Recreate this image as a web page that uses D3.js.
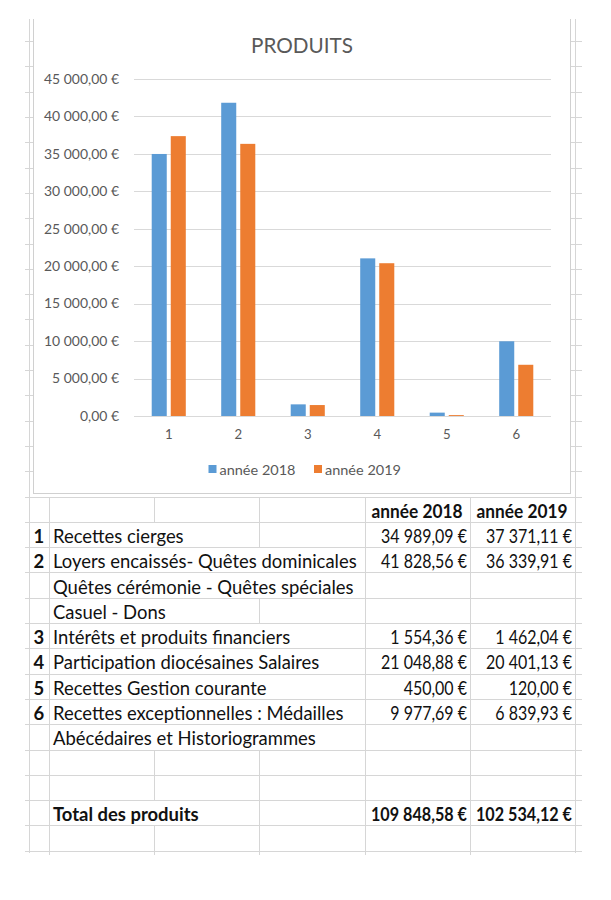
<!DOCTYPE html>
<html><head><meta charset="utf-8">
<script src="https://cdn.jsdelivr.net/npm/d3@7"></script>
<style>html,body{margin:0;padding:0;background:#fff;} svg{display:block;}</style>
</head><body>
<script>
// ---------- data ----------
const categories = ["1", "2", "3", "4", "5", "6"];
const seriesNames = ["année 2018", "année 2019"];
const values2018 = [34989.09, 41828.56, 1554.36, 21048.88, 450.00, 9977.69];
const values2019 = [37371.11, 36339.91, 1462.04, 20401.13, 120.00, 6839.93];
const yTicks = [0, 5000, 10000, 15000, 20000, 25000, 30000, 35000, 40000, 45000];
const chartTitle = "PRODUITS";
const tableNumbers = ["", "1", "2", "", "", "3", "4", "5", "6", "", "", "", "", ""];
const tableLabels = ["", "Recettes cierges", "Loyers encaissés- Quêtes dominicales",
  "Quêtes cérémonie - Quêtes spéciales", "Casuel - Dons", "Intérêts et produits financiers",
  "Participation diocésaines Salaires", "Recettes Gestion courante",
  "Recettes exceptionnelles : Médailles", "Abécédaires et Historiogrammes", "", "",
  "Total des produits", ""];
const tableCategoryIndex = [null, 0, 1, null, null, 2, 3, 4, 5, null, null, null, "total", null];

// ---------- setup ----------
const W = 611, H = 900;
const FONT = "Lato, 'Open Sans', sans-serif";
const GRID = "#d6d6d6", CHART_GRID = "#d9d9d9", TXT = "#595959";
const BLUE = "#5B9BD5", ORANGE = "#ED7D31";
const seriesValues = [values2018, values2019];
const seriesColors = [BLUE, ORANGE];

const fr = d3.formatLocale({decimal: ",", thousands: "\u00a0", grouping: [3], currency: ["", "\u00a0€"]});
const money = v => fr.format(",.2f")(v) + "\u00a0€";

const svg = d3.select("body").append("svg").attr("width", W).attr("height", H)
  .style("font-family", FONT);
svg.append("rect").attr("width", W).attr("height", H).attr("fill", "#fff");

function measure(text, weight, size) {
  const t = svg.append("text").attr("font-family", FONT).attr("font-weight", weight)
    .attr("font-size", size).text(text);
  const w = t.node().getComputedTextLength();
  t.remove();
  return w;
}
function fit(text, weight, target) { return 100 * target / measure(text, weight, 100); }

// ---------- spreadsheet grid ----------
const colX = [29.5, 49.5, 154.5, 259.5, 365.5, 470.5, 575.5];
const rowH = 25.3;
const tableTop = 496.5;
const nRows = tableLabels.length;
const gridTop = 19, gridBottom = 853;
const gridG = svg.append("g").attr("stroke", GRID).attr("stroke-width", 1).attr("shape-rendering", "crispEdges");

const hLines = [];
for (let k = 18; k >= 1; k--) hLines.push(tableTop - k * rowH);
for (let k = 0; k <= nRows; k++) hLines.push(tableTop + k * rowH);
gridG.selectAll("line.h").data(hLines).join("line").attr("class", "h")
  .attr("x1", 25).attr("x2", 582).attr("y1", d => Math.round(d) + 0.5).attr("y2", d => Math.round(d) + 0.5);

[colX[0], colX[6]].forEach(x => {
  gridG.append("line").attr("x1", x).attr("x2", x).attr("y1", gridTop).attr("y2", gridBottom);
});

// ---------- table ----------
const tableFs = fit("Loyers encaissés- Quêtes dominicales", 400, 304);
const kVal = 86 / measure(money(34989.09), 400, tableFs);
const kValBold = 96 / measure(money(109848.58), 700, tableFs);
const kHead = 91 / measure("année 2018", 700, tableFs);
const labelX = 53;
const tbl = svg.append("g").attr("font-size", tableFs).attr("fill", "#111");

tableLabels.forEach((lab, i) => {
  const y0 = tableTop + i * rowH;
  const yc = y0 + rowH / 2 + 1.5;
  const isBold = (tableCategoryIndex[i] === "total");
  const lw = lab ? measure(lab, isBold ? 700 : 400, tableFs) : 0;
  for (let c = 1; c <= 5; c++) {
    const x = colX[c];
    if ((c === 2 || c === 3) && lab && labelX + lw > x) continue;
    gridG.append("line").attr("x1", x).attr("x2", x)
      .attr("y1", Math.round(y0) + 0.5).attr("y2", Math.round(y0 + rowH) + 0.5 + (i === nRows - 1 ? 3 : 0));
  }
  if (tableNumbers[i]) {
    tbl.append("text").attr("x", 33.5).attr("y", yc).attr("dominant-baseline", "central")
      .attr("font-weight", 700).text(tableNumbers[i]);
  }
  if (lab) {
    tbl.append("text").attr("x", labelX).attr("y", yc).attr("dominant-baseline", "central")
      .attr("font-weight", isBold ? 700 : 400).text(lab);
  }
  const ci = tableCategoryIndex[i];
  if (i === 0) {
    seriesNames.forEach((s, j) => {
      const w = measure(s, 700, tableFs) * Math.min(1, kHead);
      tbl.append("text").attr("x", (colX[4 + j] + colX[5 + j]) / 2 - 1).attr("y", yc)
        .attr("dominant-baseline", "central").attr("text-anchor", "middle")
        .attr("textLength", w).attr("lengthAdjust", "spacingAndGlyphs")
        .attr("font-weight", 700).text(s);
    });
  } else if (ci !== null) {
    seriesValues.forEach((vals, j) => {
      const v = ci === "total" ? d3.sum(vals) : vals[ci];
      const txt = money(v);
      const w = measure(txt, isBold ? 700 : 400, tableFs) * (isBold ? kValBold : kVal);
      tbl.append("text").attr("x", colX[5 + j] - 3.5).attr("y", yc)
        .attr("dominant-baseline", "central").attr("text-anchor", "end")
        .attr("textLength", w).attr("lengthAdjust", "spacingAndGlyphs")
        .attr("font-weight", isBold ? 700 : 400).text(txt);
    });
  }
});

// ---------- chart ----------
const chartL = 33.5, chartR = 570.5, chartB = 493.5;
svg.append("rect").attr("x", chartL).attr("y", gridTop).attr("width", chartR - chartL)
  .attr("height", chartB - gridTop).attr("fill", "#fff");
const cb = svg.append("g").attr("stroke", "#d0d0d0").attr("shape-rendering", "crispEdges");
cb.append("line").attr("x1", chartL).attr("x2", chartL).attr("y1", gridTop).attr("y2", chartB);
cb.append("line").attr("x1", chartR).attr("x2", chartR).attr("y1", gridTop).attr("y2", chartB);
cb.append("line").attr("x1", chartL).attr("x2", chartR).attr("y1", chartB).attr("y2", chartB);

const plotL = 134, plotR = 551, plotT = 79, plotB = 416;
const y = d3.scaleLinear().domain([0, 45000]).range([plotB, plotT]);
const x0 = d3.scaleBand().domain(categories).range([plotL, plotR]).padding(0);
const x1 = d3.scaleBand().domain(seriesNames).range([0, x0.bandwidth()])
  .paddingInner(0.21).paddingOuter(0.93);

const axisFs = 13.2;
const kAxis = 75 / measure(money(45000), 400, axisFs);

const yAxis = svg.append("g").attr("transform", `translate(${plotL},0)`)
  .call(d3.axisLeft(y).tickValues(yTicks).tickSizeInner(-(plotR - plotL)).tickSizeOuter(0)
    .tickPadding(15).tickFormat(money));
yAxis.select(".domain").remove();
yAxis.selectAll(".tick line").attr("stroke", CHART_GRID).attr("shape-rendering", "crispEdges");
yAxis.selectAll(".tick text").attr("fill", TXT).attr("font-size", axisFs).attr("font-family", FONT)
  .attr("lengthAdjust", "spacingAndGlyphs")
  .attr("textLength", d => measure(money(d), 400, axisFs) * kAxis);

const xAxis = svg.append("g").attr("transform", `translate(0,${plotB})`)
  .call(d3.axisBottom(x0).tickSize(0).tickPadding(14));
xAxis.select(".domain").remove();
xAxis.selectAll(".tick text").attr("fill", TXT).attr("font-size", axisFs).attr("font-family", FONT);

const groups = svg.append("g").selectAll("g").data(categories).join("g")
  .attr("transform", d => `translate(${x0(d)},0)`);
groups.selectAll("rect").data((d, i) => seriesNames.map((s, j) => ({s, v: seriesValues[j][i], c: seriesColors[j]})))
  .join("rect")
  .attr("x", d => x1(d.s)).attr("width", x1.bandwidth())
  .attr("y", d => y(d.v)).attr("height", d => y(0) - y(d.v))
  .attr("fill", d => d.c);

// title
svg.append("text").attr("x", (chartL + chartR) / 2).attr("y", 45).attr("text-anchor", "middle")
  .attr("dominant-baseline", "central").attr("fill", TXT)
  .attr("font-size", fit(chartTitle, 400, 102)).text(chartTitle);

// legend
const legX = [208.5, 314];
const leg = svg.append("g");
seriesNames.forEach((s, j) => {
  leg.append("rect").attr("x", legX[j]).attr("y", 465).attr("width", 8).attr("height", 8).attr("fill", seriesColors[j]);
  leg.append("text").attr("x", legX[j] + 11).attr("y", 469.5).attr("dominant-baseline", "central")
    .attr("fill", TXT).attr("font-size", axisFs)
    .attr("textLength", 76).attr("lengthAdjust", "spacingAndGlyphs").text(s);
});
</script>
</body></html>
